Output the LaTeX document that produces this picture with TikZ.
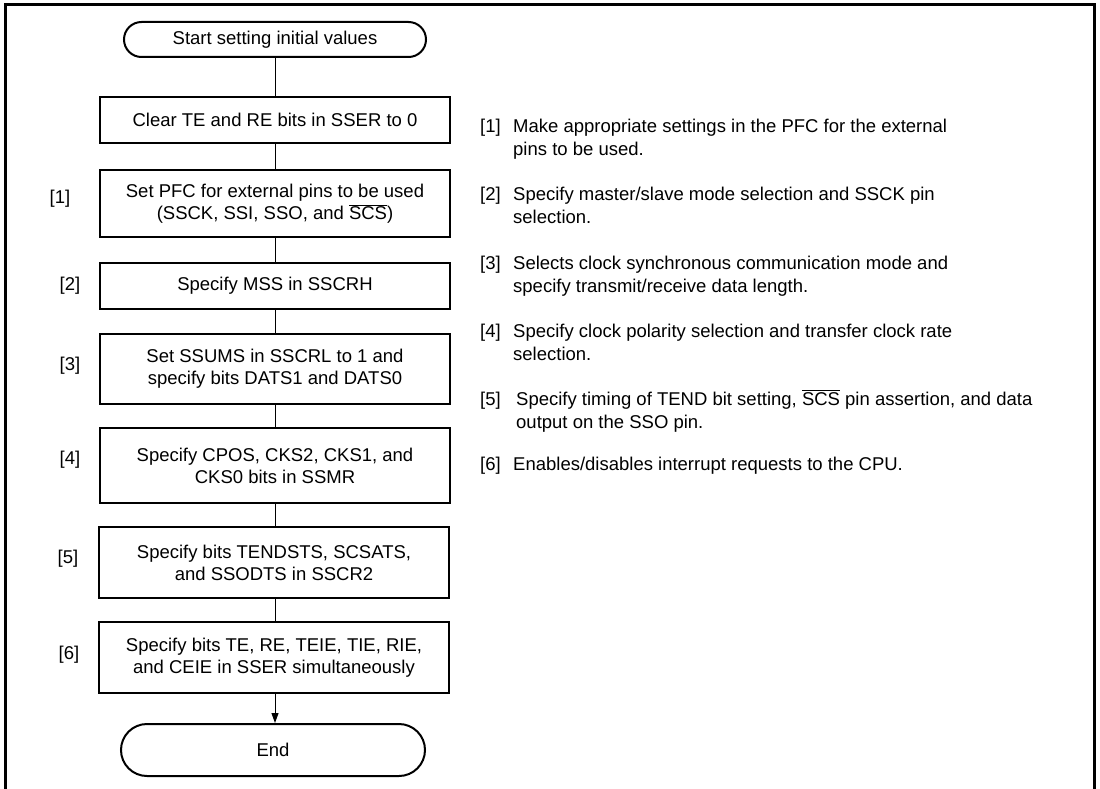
\documentclass[tikz,border=0pt]{standalone}
\usepackage{fontspec}
\setmainfont{Liberation Sans}
\usetikzlibrary{arrows.meta}
\begin{document}
\begin{tikzpicture}[x=1pt,y=-1pt,
  every node/.style={font=\fontsize{18.5}{22}\selectfont},
  stepbox/.style={draw,line width=2pt,minimum width=350pt,align=center,inner sep=0pt},
  term/.style={draw,line width=2pt,align=center,inner sep=0pt},
  conn/.style={line width=1pt},
  lbl/.style={inner sep=0pt},
  note/.style={anchor=base west,inner sep=0pt}
]
\useasboundingbox (0,0) rectangle (1100,789);
% frame
\draw[line width=3pt] (5,800) -- (5,5) -- (1094.5,5) -- (1094.5,800);

% flow
\node[term,minimum width=302pt,minimum height=35pt,rounded corners=17.5pt] (start) at (275,39.5) {Start setting initial values};
\node[stepbox,minimum height=46pt] (b0) at (275,120) {Clear TE and RE bits in SSER to 0};
\node[stepbox,minimum height=67pt] (b1) at (275,203.5) {Set PFC for external pins to be used\\(SSCK, SSI, SSO, and $\overline{\mbox{SCS}}$)};
\node[stepbox,minimum height=46pt] (b2) at (275,286) {Specify MSS in SSCRH};
\node[stepbox,minimum height=70pt] (b3) at (275,369) {Set SSUMS in SSCRL to 1 and\\specify bits DATS1 and DATS0};
\node[stepbox,minimum height=75pt] (b4) at (275,465.5) {Specify CPOS, CKS2, CKS1, and\\CKS0 bits in SSMR};
\node[stepbox,minimum height=71pt] (b5) at (274,562.5) {Specify bits TENDSTS, SCSATS,\\and SSODTS in SSCR2};
\node[stepbox,minimum height=71pt] (b6) at (274,657.5) {Specify bits TE, RE, TEIE, TIE, RIE,\\and CEIE in SSER simultaneously};
\node[term,minimum width=304pt,minimum height=52pt,rounded corners=26pt] (end) at (273,750) {End};

\draw[conn] (start) -- (b0);
\draw[conn] (b0) -- (b1);
\draw[conn] (b1) -- (b2);
\draw[conn] (b2) -- (b3);
\draw[conn] (b3) -- (b4);
\draw[conn] (b4.south) -- (b4.south |- b5.north);
\draw[conn] (b5.south -| b4.south) -- (b6.north -| b4.south);
\draw[conn,-{Triangle[length=10pt,width=7pt]}] (b6.south -| b4.south) -- (end.north -| b4.south);

% step labels
\node[lbl] (l1) at (60,199) {[1]};
\node[lbl] (l2) at (70,286) {[2]};
\node[lbl] (l3) at (70,366) {[3]};
\node[lbl] (l4) at (70,460) {[4]};
\node[lbl] (l5) at (68,559) {[5]};
\node[lbl] (l6) at (69,655) {[6]};

% notes
\node[note] (n1) at (480,133) {[1]};
\node[note] (n1a) at (513,133) {Make appropriate settings in the PFC for the external};
\node[note] (n1b) at (513,156) {pins to be used.};
\node[note] (n2) at (480,200) {[2]};
\node[note] (n2a) at (513,200) {Specify master/slave mode selection and SSCK pin};
\node[note] (n2b) at (513,223) {selection.};
\node[note] (n3) at (480,269) {[3]};
\node[note] (n3a) at (513,269) {Selects clock synchronous communication mode and};
\node[note] (n3b) at (513,292) {specify transmit/receive data length.};
\node[note] (n4) at (480,337) {[4]};
\node[note] (n4a) at (513,337) {Specify clock polarity selection and transfer clock rate};
\node[note] (n4b) at (513,360) {selection.};
\node[note] (n5) at (480,405) {[5]};
\node[note] (n5a) at (516,405) {Specify timing of TEND bit setting, $\overline{\mbox{SCS}}$ pin assertion, and data};
\node[note] (n5b) at (516,428) {output on the SSO pin.};
\node[note] (n6) at (480,470) {[6]};
\node[note] (n6a) at (513,470) {Enables/disables interrupt requests to the CPU.};
\end{tikzpicture}
\end{document}
